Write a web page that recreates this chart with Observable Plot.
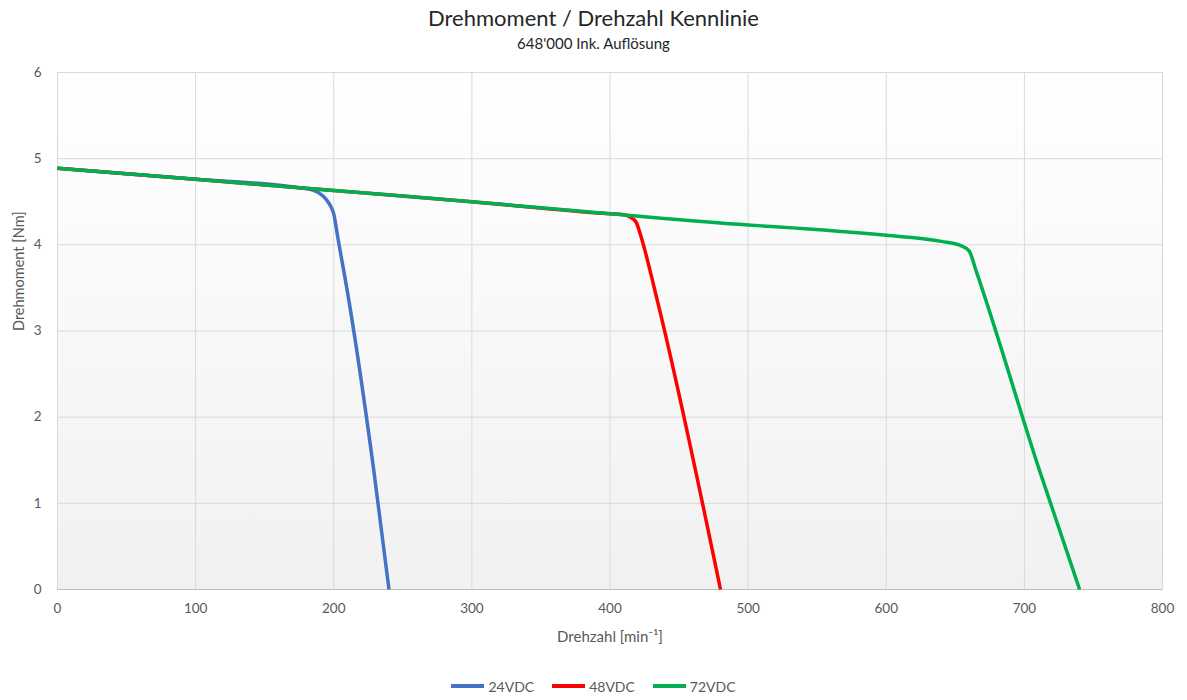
<!DOCTYPE html>
<html>
<head>
<meta charset="utf-8">
<script src="https://cdn.jsdelivr.net/npm/d3@7"></script>
<script src="https://cdn.jsdelivr.net/npm/@observablehq/plot@0.6"></script>
<style>
  html, body { margin: 0; padding: 0; background: #fff; }
  body { width: 1187px; height: 700px; overflow: hidden; font-family: Lato, "Open Sans", sans-serif; }
  #title { height: 60px; text-align: center; color: #262626; position: relative; }
  #title .t { position: absolute; left: 0; right: 0; top: 4px; font-size: 22px; }
  #title .s { position: absolute; left: 0; right: 0; top: 34px; font-size: 15px; }
  #legend { height: 40px; display: flex; justify-content: center; align-items: center; gap: 18px; font-size: 14px; color: #595959; margin-top: 6px; }
  #legend .item { display: flex; align-items: center; gap: 4px; }
  #legend .sw { width: 33px; height: 4px; display: inline-block; }
</style>
</head>
<body>
<div id="title"><div class="t">Drehmoment / Drehzahl Kennlinie</div><div class="s">648'000 Ink. Auflösung</div></div>
<div id="chart"></div>
<div id="legend"></div>
<script>
const seriesNames = ["24VDC", "48VDC", "72VDC"];
const seriesColors = ["#4472C4", "#FF0000", "#00B050"];

const speed24 = [0, 100, 175, 185, 192, 197, 200, 203, 211, 229, 240];
const torque24 = [4.89, 4.76, 4.663, 4.635, 4.57, 4.47, 4.36, 4.08, 3.35, 1.38, 0];

const speed48 = [0, 100, 200, 300, 400, 410, 415, 419, 422, 434, 480];
const torque48 = [4.89, 4.76, 4.63, 4.50, 4.36, 4.35, 4.32, 4.26, 4.12, 3.37, 0];

const speed72 = [0, 100, 200, 300, 400, 500, 520, 600, 640, 654, 660, 665, 711, 740];
const torque72 = [4.89, 4.76, 4.63, 4.50, 4.36, 4.23, 4.21, 4.11, 4.04, 3.99, 3.93, 3.70, 1.38, 0];

const xTicks = [0, 100, 200, 300, 400, 500, 600, 700, 800];
const yTicks = [0, 1, 2, 3, 4, 5, 6];

const toRows = (xs, ys, name) => xs.map((x, i) => ({speed: x, torque: ys[i], series: name}));
const rows = [
  toRows(speed24, torque24, seriesNames[0]),
  toRows(speed48, torque48, seriesNames[1]),
  toRows(speed72, torque72, seriesNames[2])
];

const plot = Plot.plot({
  width: 1187,
  height: 600,
  marginLeft: 57,
  marginRight: 25,
  marginTop: 12,
  marginBottom: 71,
  style: {fontFamily: "Lato, 'Open Sans', sans-serif", fontSize: "13px", color: "#595959", background: "transparent"},
  x: {domain: [0, 800], label: null},
  y: {domain: [0, 6], label: null},
  marks: [
    Plot.frame({fill: "url(#bgGrad)", stroke: "#d9d9d9"}),
    Plot.gridX(xTicks, {stroke: "#d9d9d9", strokeOpacity: 1, strokeWidth: 1}),
    Plot.gridY(yTicks, {stroke: "#d9d9d9", strokeOpacity: 1, strokeWidth: 1}),
    Plot.ruleY([0], {stroke: "#bfbfbf", strokeWidth: 1}),
    Plot.axisX(xTicks, {tickSize: 0, tickPadding: 14, label: null, fontSize: 13.5, fill: "#595959", tickFormat: d => String(d)}),
    Plot.axisY(yTicks, {tickSize: 0, tickPadding: 16, label: null, fontSize: 13.5, fill: "#595959", tickFormat: d => String(d)}),
    ...rows.map((r, i) => Plot.line(r, {x: "speed", y: "torque", stroke: seriesColors[i], strokeWidth: 3.5, curve: "monotone-x", strokeLinejoin: "round", strokeLinecap: "butt"})),
    Plot.text(["Drehmoment [Nm]"], {frameAnchor: "left", dx: -38, rotate: -90, fontSize: 14.5, fill: "#595959"}),
    Plot.text(["Drehzahl [min⁻¹]"], {frameAnchor: "bottom", dy: 52, fontSize: 15, fill: "#595959"})
  ]
});

// gradient background for plot area
const ns = "http://www.w3.org/2000/svg";
const defs = document.createElementNS(ns, "defs");
const grad = document.createElementNS(ns, "linearGradient");
grad.setAttribute("id", "bgGrad");
grad.setAttribute("x1", "0"); grad.setAttribute("y1", "0");
grad.setAttribute("x2", "0"); grad.setAttribute("y2", "1");
[["0", "#ffffff"], ["1", "#f1f1f1"]].forEach(([o, c]) => {
  const s = document.createElementNS(ns, "stop");
  s.setAttribute("offset", o); s.setAttribute("stop-color", c);
  grad.appendChild(s);
});
defs.appendChild(grad);
plot.insertBefore(defs, plot.firstChild);
document.getElementById("chart").appendChild(plot);

const legend = document.getElementById("legend");
seriesNames.forEach((n, i) => {
  const it = document.createElement("div");
  it.className = "item";
  const sw = document.createElement("span");
  sw.className = "sw";
  sw.style.background = seriesColors[i];
  const lb = document.createElement("span");
  lb.textContent = n;
  it.appendChild(sw); it.appendChild(lb);
  legend.appendChild(it);
});
</script>
</body>
</html>
